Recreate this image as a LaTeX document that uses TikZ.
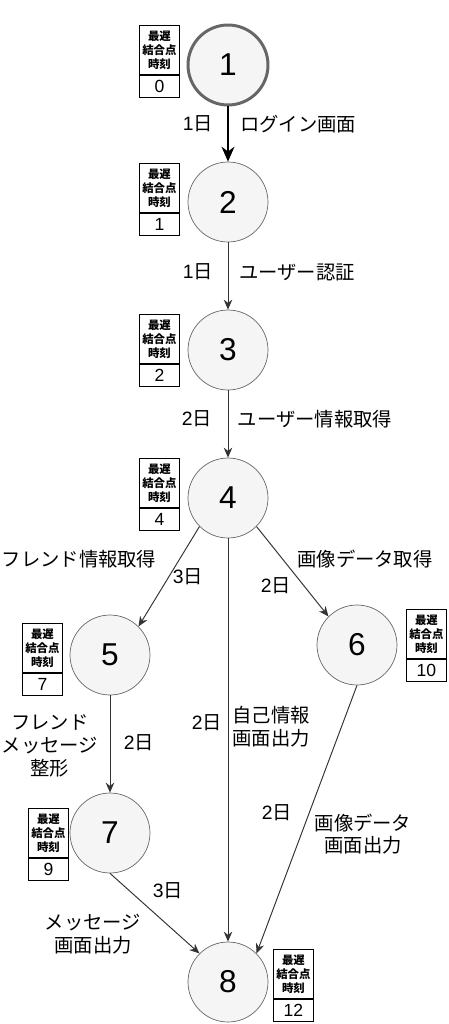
\documentclass[tikz,border=0pt]{standalone}
\usepackage{fontspec}
\setmainfont{Liberation Sans}
\newfontfamily\jp{Noto Sans CJK JP}
\usepackage{tikz}
\usetikzlibrary{arrows.meta}
\definecolor{cFill}{HTML}{F5F5F5}
\definecolor{cRing}{HTML}{666666}
\definecolor{cEdge}{HTML}{333333}
\tikzset{
	evt/.style     ={circle, draw=cRing, fill=cFill, minimum size=1.6cm, inner sep=0pt, font=\fontsize{18}{20}\selectfont},
	evtstart/.style={evt, line width=1.7pt},
	late/.style    ={rectangle, draw=black, line width=0.5pt, fill=white, anchor=north west, minimum width=0.8cm, minimum height=0.98cm, inner sep=0pt, align=center, font=\jp\bfseries\fontsize{6.5}{8}\selectfont},
	lateval/.style ={rectangle, draw=black, line width=0.5pt, fill=white, anchor=north, minimum width=0.8cm, minimum height=0.44cm, inner sep=0pt, font=\fontsize{10}{12}\selectfont},
	act/.style     ={-{Stealth[length=2mm, width=1.7mm]}, draw=cEdge, line width=0.55pt},
	crit/.style    ={-{Stealth[length=3mm, width=2.6mm]}, draw=black, line width=1.1pt},
	lbl/.style     ={inner sep=0pt, align=center, font=\jp\fontsize{11}{13}\selectfont},
}
% latest node time box: name, x, y (top left), value
\newcommand{\lateBox}[4]{%
	\node[late] (#1) at (#2,#3) {最遅\\結合点\\時刻};
	\node[lateval] (#1v) at (#1.south) {#4};}
\newcommand{\dur}[1]{{\rmfamily #1}日}

\begin{document}
\begin{tikzpicture}[x=0.02cm, y=-0.02cm]
	\useasboundingbox (0,0) rectangle (449,1024);
	% events
	\node[evtstart] (n1) at (228,65) {1};
	\node[evt] (n2) at (228,202) {2};
	\node[evt] (n3) at (228,350) {3};
	\node[evt] (n4) at (228,498) {4};
	\node[evt] (n5) at (110,655) {5};
	\node[evt] (n6) at (357,645) {6};
	\node[evt] (n7) at (110,833) {7};
	\node[evt] (n8) at (228,982) {8};
	% latest times
	\lateBox{b1}{139}{25}{0}
	\lateBox{b2}{139}{163}{1}
	\lateBox{b3}{139}{314}{2}
	\lateBox{b4}{139}{458}{4}
	\lateBox{b5}{22}{623}{7}
	\lateBox{b6}{406}{609}{10}
	\lateBox{b7}{28}{808}{9}
	\lateBox{b8}{273}{949}{12}
	% activities
	\draw[crit] (n1) -- (n2);
	\draw[act] (n2) -- (n3);
	\draw[act] (n3) -- (n4);
	\draw[act] (n4.south west) -- (n5.north east);
	\draw[act] (n4.south east) -- (n6.north west);
	\draw[act] (n4) -- (n8);
	\draw[act] (n5) -- (n7);
	\draw[act] (n6.south) -- (n8.north east);
	\draw[act] (n7.south) -- (n8.north west);
	% labels
	\node[lbl] (d12) at (198,124) {\dur{1}};
	\node[lbl] (t12) at (298,124) {ログイン画面};
	\node[lbl] (d23) at (198,272) {\dur{1}};
	\node[lbl] (t23) at (297,272) {ユーザー認証};
	\node[lbl] (d34) at (197,419) {\dur{2}};
	\node[lbl] (t34) at (315,419) {ユーザー情報取得};
	\node[lbl] (t45) at (79,559) {フレンド情報取得};
	\node[lbl] (d45) at (188,577) {\dur{3}};
	\node[lbl] (t46) at (365,559) {画像データ取得};
	\node[lbl] (d46) at (276,586) {\dur{2}};
	\node[lbl] (d48) at (207,723) {\dur{2}};
	\node[lbl] (t48) at (271,727) {自己情報\\画面出力};
	\node[lbl] (t57) at (50,746) {フレンド\\メッセージ\\整形};
	\node[lbl] (d57) at (139,743) {\dur{2}};
	\node[lbl] (d68) at (277,813) {\dur{2}};
	\node[lbl] (t68) at (363,834) {画像データ\\画面出力};
	\node[lbl] (d78) at (168,891) {\dur{3}};
	\node[lbl] (t78) at (93,934) {メッセージ\\画面出力};
\end{tikzpicture}
\end{document}
